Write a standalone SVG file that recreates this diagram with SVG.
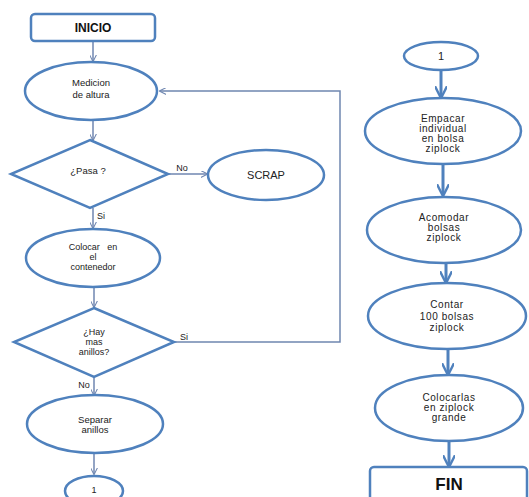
<svg xmlns="http://www.w3.org/2000/svg" width="529" height="497" viewBox="0 0 529 497">
<defs>
<style>
.s{fill:#fff;stroke:#4F81BD;stroke-width:2.5}
.t{font-family:"Liberation Sans",Arial,sans-serif;font-size:9.5px;fill:#222;text-anchor:middle}
.r{font-size:10px;letter-spacing:0.6px}
.m{font-size:9px}
.b{font-family:"Liberation Sans",Arial,sans-serif;font-weight:bold;fill:#111;text-anchor:middle}
.c{fill:none;stroke:#6F86B0;stroke-width:1.5}
.k{fill:none;stroke:#4F81BD;stroke-width:3}
</style>
<marker id="a" viewBox="0 0 10 10" refX="9" refY="5" markerWidth="7" markerHeight="7" markerUnits="userSpaceOnUse" orient="auto"><path d="M0,0 L10,5 L0,10" fill="none" stroke="#6F86B0" stroke-width="1.5"/></marker>
<marker id="ak" viewBox="0 0 10 10" refX="9" refY="5" markerWidth="12" markerHeight="12" markerUnits="userSpaceOnUse" orient="auto"><path d="M0,0 L10,5 L0,10" fill="none" stroke="#4F81BD" stroke-width="2"/></marker>
</defs>
<rect width="529" height="497" fill="#fff"/>
<g id="connectors">
<path class="c" d="M93,41 V61" marker-end="url(#a)"/>
<path class="c" d="M93,120 V140" marker-end="url(#a)"/>
<path class="c" d="M168,174 H207" marker-end="url(#a)"/>
<path class="c" d="M93,208 V228" marker-end="url(#a)"/>
<path class="c" d="M94,287 V307" marker-end="url(#a)"/>
<path class="c" d="M174,342 H340 V91 H160" marker-end="url(#a)"/>
<path class="c" d="M94,377 V395" marker-end="url(#a)"/>
<path class="c" d="M94,453 V474" marker-end="url(#a)"/>
<path class="k" d="M441,71 V97" marker-end="url(#ak)"/>
<path class="k" d="M443,165 V195" marker-end="url(#ak)"/>
<path class="k" d="M446,264 V282" marker-end="url(#ak)"/>
<path class="k" d="M448,350 V374" marker-end="url(#ak)"/>
<path class="k" d="M449,442 V466" marker-end="url(#ak)"/>
<text class="t m" x="182" y="171">No</text>
<text class="t m" x="101" y="219">Si</text>
<text class="t m" x="184" y="340">Si</text>
<text class="t m" x="84" y="388">No</text>
</g>
<g id="inicio"><rect class="s" x="31" y="14" width="124" height="27" rx="4"/><text class="b" x="93" y="32" font-size="12">INICIO</text></g>
<g id="medicion"><ellipse class="s" cx="91" cy="91" rx="66" ry="29"/><text class="t" x="91" y="86">Medicion</text><text class="t" x="91" y="98">de altura</text></g>
<g id="pasa"><polygon class="s" points="90,140 168,174 90,208 11,174"/><text class="t" x="88" y="174">¿Pasa ?</text></g>
<g id="scrap"><ellipse class="s" cx="266" cy="175" rx="58" ry="25"/><text class="t" x="266" y="179" style="font-size:11px">SCRAP</text></g>
<g id="colocar"><ellipse class="s" cx="93" cy="258" rx="67" ry="29"/><text class="t m" x="93" y="250" xml:space="preserve">Colocar   en</text><text class="t m" x="93" y="260">el</text><text class="t m" x="93" y="270">contenedor</text></g>
<g id="hay"><polygon class="s" points="94,308 174,342 94,377 14,342"/><text class="t m" x="94" y="335">¿Hay</text><text class="t m" x="94" y="345">mas</text><text class="t m" x="94" y="355">anillos?</text></g>
<g id="separar"><ellipse class="s" cx="95" cy="424" rx="68" ry="29"/><text class="t" x="95" y="423">Separar</text><text class="t" x="95" y="433">anillos</text></g>
<g id="con1a"><ellipse class="s" cx="94" cy="491" rx="29" ry="15"/><text class="t m" x="94" y="493">1</text></g>
<g id="con1b"><ellipse class="s" cx="441" cy="56" rx="37" ry="14"/><text class="t" x="441" y="60" style="font-size:11px">1</text></g>
<g id="empacar"><ellipse class="s" cx="443" cy="131" rx="78" ry="33"/><text class="t r" x="443" y="122">Empacar</text><text class="t r" x="443" y="132">individual</text><text class="t r" x="443" y="142">en bolsa</text><text class="t r" x="443" y="152">ziplock</text></g>
<g id="acomodar"><ellipse class="s" cx="444" cy="230" rx="77" ry="33"/><text class="t r" x="444" y="221">Acomodar</text><text class="t r" x="444" y="231">bolsas</text><text class="t r" x="444" y="241">ziplock</text></g>
<g id="contar"><ellipse class="s" cx="447" cy="316" rx="79" ry="33"/><text class="t r" x="447" y="308">Contar</text><text class="t r" x="447" y="320">100 bolsas</text><text class="t r" x="447" y="331">ziplock</text></g>
<g id="colocarlas"><ellipse class="s" cx="449" cy="408" rx="74" ry="33"/><text class="t r" x="449" y="401">Colocarlas</text><text class="t r" x="449" y="411">en ziplock</text><text class="t r" x="449" y="421">grande</text></g>
<g id="fin"><rect class="s" x="370" y="467" width="157" height="40" rx="4"/><text class="b" x="449" y="490" font-size="17">FIN</text></g>
</svg>
